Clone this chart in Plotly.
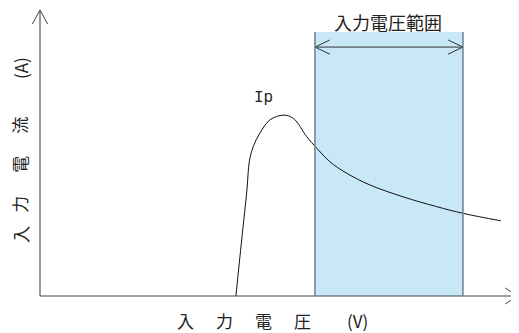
import plotly.graph_objects as go

# schematic curve of input current vs input voltage (arbitrary units, 0-100)
volt = [40.9, 42.1, 43.2, 43.7, 44.5, 45.9, 48.0, 50.8, 52.9, 55.7, 57.8,
        60.5, 64.0, 68.9, 75.8, 82.8, 88.4, 96.2]
curr = [0.0, 18.9, 35.8, 45.4, 50.4, 55.0, 59.5, 61.1, 60.0, 53.8, 49.9,
        45.4, 41.5, 37.5, 33.5, 30.2, 27.9, 25.4]

range_lo, range_hi = 57.4, 88.3   # 入力電圧範囲
range_top = 89.2
span_y = 84.1

x_chars = ["入", "力", "電", "圧", "(V)"]
y_chars = ["入", "力", "電", "流", "(A)"]

FONT = "Noto Sans CJK JP"
GRAY = "#7a7a7a"
TXT = "#222222"

fig = go.Figure()

# shaded input-voltage band
fig.add_shape(type="rect", x0=range_lo, x1=range_hi, y0=0, y1=range_top,
              fillcolor="#c8e8f8", line_width=0, layer="below")
for xv in (range_lo, range_hi):
    fig.add_shape(type="line", x0=xv, x1=xv, y0=0, y1=range_top,
                  line=dict(color="#6f7f88", width=1.5))

fig.add_trace(go.Scatter(x=volt, y=curr, mode="lines", line_shape="spline",
                         line=dict(color="#111111", width=1), hoverinfo="skip"))

# double arrow across band
fig.add_trace(go.Scatter(x=[range_lo, range_hi], y=[span_y, span_y], mode="lines",
                         line=dict(color="#333333", width=1), hoverinfo="skip"))
ax_, ay_ = 3.1, 2.4
fig.add_trace(go.Scatter(x=[range_lo + ax_, range_lo, range_lo + ax_],
                         y=[span_y + ay_, span_y, span_y - ay_], mode="lines",
                         line=dict(color="#333333", width=1), hoverinfo="skip"))
fig.add_trace(go.Scatter(x=[range_hi - ax_, range_hi, range_hi - ax_],
                         y=[span_y + ay_, span_y, span_y - ay_], mode="lines",
                         line=dict(color="#333333", width=1), hoverinfo="skip"))

# axes with open arrowheads
fig.add_trace(go.Scatter(x=[0, 0], y=[0, 96.6], mode="lines",
                         line=dict(color=GRAY, width=1.5), hoverinfo="skip"))
fig.add_trace(go.Scatter(x=[-1.6, 0, 1.6], y=[91.9, 96.6, 91.9], mode="lines",
                         line=dict(color="#444444", width=1), hoverinfo="skip"))
fig.add_trace(go.Scatter(x=[0, 99.8], y=[0, 0], mode="lines",
                         line=dict(color="#444444", width=1), hoverinfo="skip"))
fig.add_trace(go.Scatter(x=[97.1, 99.8, 97.1], y=[2.7, 0, -2.7], mode="lines",
                         line=dict(color="#444444", width=1), hoverinfo="skip"))

ann = []
ann.append(dict(x=72.7, xref="x", y=1, yref="paper", yanchor="top",
                text="入力電圧範囲", showarrow=False, borderpad=0,
                font=dict(family=FONT, size=18, color=TXT)))
ann.append(dict(x=46.6, y=66.9, text="Ip", showarrow=False,
                font=dict(family="Liberation Mono", size=16, color=TXT)))
xpos = [30.3, 38.6, 46.6, 54.7, 66.2]
for t, xv in zip(x_chars, xpos):
    ann.append(dict(x=xv, y=-8.4, text=t, showarrow=False, yanchor="middle",
                    font=dict(family=FONT, size=17, color=TXT)))
ypos = [20.9, 31.1, 44.6, 57.8, 77.0]
for t, yv in zip(y_chars, ypos):
    ann.append(dict(x=-4.2, y=yv, text=t, showarrow=False, textangle=-90,
                    font=dict(family=FONT, size=17, color=TXT)))

# page body has an 8px margin, so the figure is 8px smaller and fills the rest
fig.update_layout(
    width=511, height=325,
    margin=dict(l=0, r=0, t=0, b=0),
    paper_bgcolor="white", plot_bgcolor="white",
    showlegend=False,
    xaxis=dict(range=[-6.68, 100], visible=False),
    yaxis=dict(range=[-12.5, 97.3], visible=False),
    annotations=ann,
)

fig.write_html("out.html")
